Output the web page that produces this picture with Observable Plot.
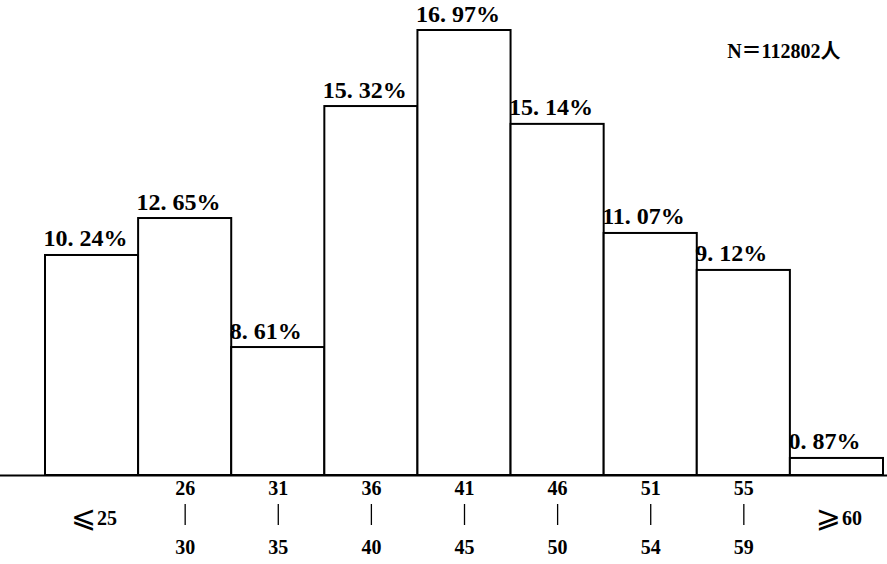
<!DOCTYPE html>
<html>
<head>
<meta charset="utf-8">
<script src="https://cdn.jsdelivr.net/npm/d3@7"></script>
<script src="https://cdn.jsdelivr.net/npm/@observablehq/plot@0.6"></script>
<style>
  html, body { margin: 0; padding: 0; background: #fff; }
</style>
</head>
<body>
<div id="chart"></div>
<script>
// Age groups (x categories): lower and upper bounds (null = open-ended)
const lowerBounds = [null, 26, 31, 36, 41, 46, 51, 55, 60];
const upperBounds = [25, 30, 35, 40, 45, 50, 54, 59, null];
// Printed percentage shares
const shares = [10.24, 12.65, 8.61, 15.32, 16.97, 15.14, 11.07, 9.12, 0.87];
// Bar heights as drawn in the original figure (not proportional to the printed shares), in share units
const drawnHeights = [8.39, 9.80, 4.88, 14.07, 16.97, 13.39, 9.23, 7.82, 0.65];
const sampleSize = 112802;

const data = shares.map((s, i) => ({i, share: s, drawn: drawnHeights[i], lo: lowerBounds[i], hi: upperBounds[i]}));
const closed = data.filter(d => d.lo != null && d.hi != null);
const open = data.filter(d => d.lo == null || d.hi == null)
  .map(d => ({...d, sign: d.lo == null ? "⩽" : "⩾", bound: d.lo == null ? d.hi : d.lo}));
const font = "'Liberation Serif', 'Noto Sans CJK SC', 'DejaVu Sans', serif";
const tick = {frameAnchor: "bottom", lineAnchor: "middle", fill: "#000"};

const chart = Plot.plot({
  width: 887,
  height: 564,
  marginLeft: 0,
  marginRight: 0,
  marginTop: 30,
  marginBottom: 89,
  x: {type: "linear", domain: [0, shares.length], range: [45, 883], axis: null},
  y: {domain: [0, d3.max(drawnHeights)], axis: null},
  style: {fontFamily: font, background: "#fff", color: "#000"},
  marks: [
    Plot.rectY(data, {x1: d => d.i, x2: d => d.i + 1, y: "drawn", fill: "#fff", stroke: "#000", strokeWidth: 2}),
    Plot.ruleY([0], {stroke: "#000", strokeWidth: 2}),
    Plot.text(data, {
      x: d => d.i, y: "drawn",
      text: d => d.share.toFixed(2).replace(".", ". ") + "%",
      textAnchor: "start", lineAnchor: "bottom", dy: -9, dx: -2,
      fontSize: 24, fontWeight: "bold", fill: "#000", ariaLabel: "share-labels"
    }),
    // closed groups: lower bound / connector / upper bound
    Plot.text(closed, {...tick, x: d => d.i + 0.5, text: d => String(d.lo), dy: 13, fontSize: 20, fontWeight: "bold", ariaLabel: "age-lo"}),
    Plot.ruleX(closed, {x: d => d.i + 0.5, insetTop: 474, insetBottom: -50, stroke: "#000", strokeWidth: 1.3}),
    Plot.text(closed, {...tick, x: d => d.i + 0.5, text: d => String(d.hi), dy: 72, fontSize: 20, fontWeight: "bold", ariaLabel: "age-hi"}),
    // open-ended groups: sign + bound
    Plot.text(open, {...tick, x: d => d.i + 0.5, text: "sign", textAnchor: "end", dx: 4, dy: 42, fontSize: 30, fontFamily: "'DejaVu Sans'"}),
    Plot.text(open, {...tick, x: d => d.i + 0.5, text: d => String(d.bound), textAnchor: "start", dx: 5, dy: 43, fontSize: 20, fontWeight: "bold", ariaLabel: "age-open"}),
    Plot.text([`N＝${sampleSize}人`], {
      frameAnchor: "top-right", textAnchor: "end", lineAnchor: "middle",
      dx: -47, dy: 21, fontSize: 20, fontWeight: "bold", fill: "#000", ariaLabel: "n-label"
    })
  ]
});

document.getElementById("chart").appendChild(chart);
const svg = d3.select(chart);
const sel = name => svg.selectAll(`g[aria-label="${name}"] text, text[aria-label="${name}"]`);
sel("share-labels").style("letter-spacing", "2px");
sel("age-lo").style("letter-spacing", "2px");
sel("age-hi").style("letter-spacing", "2px");
sel("age-open").style("letter-spacing", "2px");
sel("n-label").style("letter-spacing", "5px");
</script>
</body>
</html>
